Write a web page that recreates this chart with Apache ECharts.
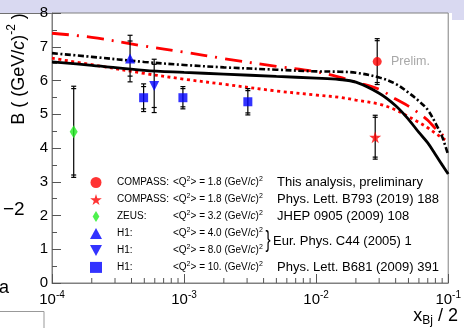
<!DOCTYPE html>
<html>
<head>
<meta charset="utf-8">
<script src="https://cdn.jsdelivr.net/npm/echarts@6/dist/echarts.min.js"></script>
<style>
html, body { margin: 0; padding: 0; background: #fff; }
#chart { width: 464px; height: 328px; }
</style>
</head>
<body>
<div id="chart"></div>
<script>
var fontF = '"Liberation Sans", Arial, Helvetica, sans-serif';

// model curves, sampled at curveX
var curveX    = [1e-4, 2e-4, 5e-4, 1e-3, 2e-3, 5e-3, 1e-2, 1.5e-2, 2e-2, 3e-2, 4e-2, 5e-2, 6e-2, 7e-2, 8e-2, 9e-2, 1e-1];
var solidB    = [6.55, 6.45, 6.30, 6.24, 6.19, 6.12, 6.07, 6.03, 5.95, 5.62, 5.25, 4.85, 4.46, 4.15, 3.81, 3.50, 3.23];
var dashDotB  = [6.81, 6.70, 6.55, 6.46, 6.39, 6.32, 6.27, 6.26, 6.23, 6.09, 5.90, 5.64, 5.39, 5.13, 4.74, 4.33, 3.79];
var dashDotR  = [7.40, 7.28, 7.02, 6.84, 6.65, 6.42, 6.26, 6.10, 5.95, 5.74, 5.45, 5.24, 5.03, 4.82, 4.58, 4.40, 4.24];
var dottedR   = [6.66, 6.47, 6.21, 6.04, 5.89, 5.69, 5.57, 5.50, 5.42, 5.30, 5.13, 4.93, 4.76, 4.60, 4.44, 4.30, 4.18];

// measurements: x, B, total error, stat error
var compassNew = [[0.029, 6.56, 0.68, 0.62]];
var compassOld = [[0.028, 4.32, 0.65, 0.59]];
var zeus       = [[1.46e-4, 4.48, 1.35, 1.28]];
var h1q4       = [[3.9e-4, 6.65, 0.69, 0.52]];
var h1q8       = [[5.94e-4, 5.84, 0.79, 0.64]];
var h1q10      = [[4.94e-4, 5.49, 0.41, 0.33], [9.8e-4, 5.49, 0.33, 0.27], [3.04e-3, 5.37, 0.39, 0.33]];

var seriesNames = ['c1', 'c2', 'zeus', 'h1a', 'h1b', 'h1c'];
var legNames = ['COMPASS:', 'COMPASS:', 'ZEUS:', 'H1:', 'H1:', 'H1:'];
var legQ2 = ['1.8', '1.8', '3.2', '4.0', '8.0', '10.'];
var refTexts = ['This analysis, preliminary', 'Phys. Lett. B793 (2019) 188', 'JHEP 0905 (2009) 108', 'Phys. Lett. B681 (2009) 391'];
var refRows = [182, 199, 216, 267];
var eurText = 'Eur. Phys. C44 (2005) 1';

var decades = [1e-4, 1e-3, 1e-2];
var mantissas = [2, 3, 4, 5, 6, 7, 8, 9];

var starPath = 'path://M50,0 L61,35 L98,35 L68,57 L79,91 L50,70 L21,91 L32,57 L2,35 L39,35 Z';
var downTri = 'path://M0,0 L10,0 L5,9 Z';
var diamondPath = 'path://M4,0 L8,6.5 L4,13 L0,6.5 Z';

function pairs(xs, ys) {
    var out = [];
    for (var i = 0; i < xs.length; i++) out.push([xs[i], ys[i]]);
    return out;
}

function points(data) {
    return data.map(function(p) { return [p[0], p[1]]; });
}

var minorTicks = [];
decades.forEach(function(d) {
    mantissas.forEach(function(m) { minorTicks.push([d * m]); });
});

function curve(ys, color, width, type) {
    return {
        type: 'line', data: pairs(curveX, ys), smooth: 0.35, showSymbol: false, silent: true, z: 2,
        lineStyle: { color: color, width: width, type: type, cap: 'butt' }
    };
}

function errBars(data) {
    return {
        type: 'custom', data: data, z: 3, silent: true,
        encode: { x: 0, y: 1 },
        renderItem: function(params, api) {
            var x = api.value(0), y = api.value(1), et = api.value(2), es = api.value(3);
            var top = api.coord([x, y + et]), bot = api.coord([x, y - et]);
            var st = api.coord([x, y + es]), sb = api.coord([x, y - es]);
            var style = { stroke: '#000', lineWidth: 1.2 };
            function cap(p) {
                return { type: 'line', shape: { x1: p[0] - 2.5, y1: p[1], x2: p[0] + 2.5, y2: p[1] }, style: style };
            }
            return {
                type: 'group',
                children: [
                    { type: 'line', shape: { x1: top[0], y1: top[1], x2: bot[0], y2: bot[1] }, style: style },
                    cap(top), cap(bot), cap(st), cap(sb)
                ]
            };
        }
    };
}

function marks(name, data, symbol, size, color) {
    return {
        type: 'scatter', name: name, data: points(data), symbol: symbol, symbolSize: size,
        itemStyle: { color: color }, z: 5, silent: true
    };
}

var chart = echarts.init(document.getElementById('chart'), null, { renderer: 'canvas' });

var option = {
    animation: false,
    backgroundColor: '#fff',
    textStyle: { fontFamily: fontF },
    grid: { left: 52, top: 13, right: 13, bottom: 45, show: true, borderColor: '#808080', borderWidth: 1 },
    xAxis: {
        type: 'log', logBase: 10, min: 1e-4, max: 0.1,
        axisLine: { lineStyle: { color: '#808080', width: 1 } },
        axisTick: { inside: true, length: 9, lineStyle: { color: '#555' } },
        splitLine: { show: false },
        axisLabel: {
            margin: 7, color: '#000',
            formatter: function(v) {
                var e = Math.round(Math.log(v) / Math.LN10);
                return '{b|10}{s|' + e + '}';
            },
            rich: {
                b: { fontSize: 15, fontFamily: fontF, color: '#000' },
                s: { fontSize: 10, fontFamily: fontF, color: '#000', padding: [0, 0, 9, 0] }
            }
        }
    },
    yAxis: {
        type: 'value', min: 0, max: 8, interval: 1,
        axisLine: { show: true, lineStyle: { color: '#808080', width: 1 } },
        axisTick: { inside: true, length: 9, lineStyle: { color: '#555' } },
        minorTick: { show: true, splitNumber: 2, length: 5, lineStyle: { color: '#555' } },
        splitLine: { show: false },
        axisLabel: { margin: 4, fontSize: 15, color: '#000', fontFamily: fontF }
    },
    legend: {
        orient: 'vertical', left: 85, top: 171, itemWidth: 12, itemHeight: 11, itemGap: 5,
        selectedMode: false, symbolKeepAspect: true,
        data: [
            { name: 'c1', icon: 'circle' },
            { name: 'c2', icon: starPath },
            { name: 'zeus', icon: diamondPath },
            { name: 'h1a', icon: 'triangle' },
            { name: 'h1b', icon: downTri },
            { name: 'h1c', icon: 'rect' }
        ],
        formatter: function(name) {
            var i = seriesNames.indexOf(name);
            return '{n|' + legNames[i] + '}{q|<Q}{s|2}{q|> = ' + legQ2[i] + ' (GeV/}{i|c}{q|)}{s|2}';
        },
        textStyle: {
            color: '#000',
            rich: {
                n: { fontSize: 10, fontFamily: fontF, width: 56, padding: [0, 0, 0, 10] },
                q: { fontSize: 10, fontFamily: fontF },
                i: { fontSize: 10, fontFamily: fontF, fontStyle: 'italic' },
                s: { fontSize: 7, fontFamily: fontF, padding: [0, 0, 6, 0] }
            }
        }
    },
    graphic: [
        { type: 'rect', z: -10, shape: { x: 0, y: 0, width: 464, height: 13 }, style: { fill: '#d9d9f1' }, silent: true },
        { type: 'rect', z: -10, shape: { x: 452, y: 0, width: 12, height: 20 }, style: { fill: '#d9d9f1' }, silent: true },
        { type: 'line', z: -10, shape: { x1: 0, y1: 13.5, x2: 52, y2: 13.5 }, style: { stroke: '#707070', lineWidth: 1 }, silent: true },
        {
            type: 'text', x: 19, y: 69, rotation: Math.PI / 2, silent: true,
            style: {
                text: '{m|B ( (GeV/}{i|c}{m|)}{s|-2}{m| )}',
                align: 'center', verticalAlign: 'middle', fill: '#000',
                rich: {
                    m: { fontSize: 18, fontFamily: fontF },
                    i: { fontSize: 18, fontFamily: fontF, fontStyle: 'italic' },
                    s: { fontSize: 12, fontFamily: fontF, padding: [0, 0, 14, 0] }
                }
            }
        },
        { type: 'text', x: 3, y: 210, silent: true, style: { text: '\u22122', fontSize: 19, fontFamily: fontF, fill: '#000', verticalAlign: 'middle' } },
        { type: 'text', x: 9, y: 288, silent: true, style: { text: 'a', fontSize: 18, fontFamily: fontF, fill: '#000', align: 'right', verticalAlign: 'middle' } },
        { type: 'rect', shape: { x: -2, y: 311.5, width: 46, height: 20 }, style: { fill: '#fff', stroke: '#999', lineWidth: 1 }, silent: true },
        { type: 'text', x: 391, y: 62, silent: true, style: { text: 'Prelim.', fontSize: 12.5, fontFamily: fontF, fill: '#a8a8a8', verticalAlign: 'middle' } },
        { type: 'text', x: 277, y: refRows[0], silent: true, style: { text: refTexts[0], fontSize: 13, fontFamily: fontF, fill: '#000', verticalAlign: 'middle' } },
        { type: 'text', x: 277, y: refRows[1], silent: true, style: { text: refTexts[1], fontSize: 13, fontFamily: fontF, fill: '#000', verticalAlign: 'middle' } },
        { type: 'text', x: 277, y: refRows[2], silent: true, style: { text: refTexts[2], fontSize: 13, fontFamily: fontF, fill: '#000', verticalAlign: 'middle' } },
        { type: 'text', x: 277, y: refRows[3], silent: true, style: { text: refTexts[3], fontSize: 13, fontFamily: fontF, fill: '#000', verticalAlign: 'middle' } },
        { type: 'text', x: 268, y: 240, scaleX: 0.8, scaleY: 1.25, silent: true, style: { text: '}', fontSize: 19, fontFamily: fontF, fill: '#000', align: 'center', verticalAlign: 'middle' } },
        { type: 'text', x: 273, y: 241, silent: true, style: { text: eurText, fontSize: 13, fontFamily: fontF, fill: '#000', verticalAlign: 'middle' } },
        {
            type: 'text', x: 458, y: 316, silent: true,
            style: {
                text: '{m|x}{b|Bj}{m| / 2}', align: 'right', verticalAlign: 'middle', fill: '#000',
                rich: {
                    m: { fontSize: 18, fontFamily: fontF },
                    b: { fontSize: 12, fontFamily: fontF, padding: [10, 0, 0, 0] }
                }
            }
        }
    ],
    series: [
        curve(dottedR, '#ff0000', 2.8, [3, 3.5]),
        curve(dashDotR, '#ff0000', 2.8, [17, 8, 2, 8]),
        curve(dashDotB, '#000000', 2.6, [6, 2.5, 2, 2.5]),
        curve(solidB, '#000000', 2.8, 'solid'),
        {
            type: 'custom', data: minorTicks, silent: true, z: 4,
            encode: { x: 0 },
            renderItem: function(params, api) {
                var p = api.coord([api.value(0), 0]);
                return { type: 'line', shape: { x1: p[0], y1: p[1], x2: p[0], y2: p[1] - 5 }, style: { stroke: '#555', lineWidth: 1 } };
            }
        },
        errBars(compassNew), errBars(compassOld), errBars(zeus),
        errBars(h1q4), errBars(h1q8), errBars(h1q10),
        marks('c1', compassNew, 'circle', 9, '#ff0000'),
        marks('c2', compassOld, starPath, 12, '#ff0000'),
        marks('zeus', zeus, 'diamond', [8, 13], '#22ee22'),
        marks('h1a', h1q4, 'triangle', 10, '#0000ff'),
        marks('h1b', h1q8, downTri, 10, '#0000ff'),
        marks('h1c', h1q10, 'rect', 9, '#0000ff')
    ]
};

chart.setOption(option);
</script>
</body>
</html>
